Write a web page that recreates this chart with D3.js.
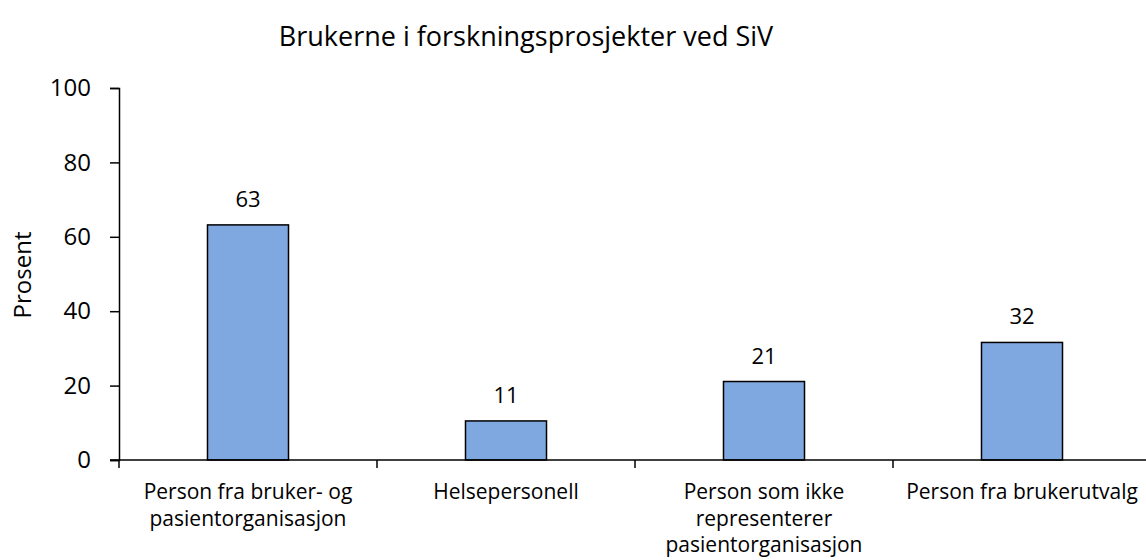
<!DOCTYPE html>
<html>
<head>
<meta charset="utf-8">
<script src="https://cdn.jsdelivr.net/npm/d3@7"></script>
<style>
  body { margin: 0; background: #fff; }
  text { font-family: "Open Sans", sans-serif; fill: #000; }
</style>
</head>
<body>
<div id="chart"></div>
<script>
// data
var categories = [
  ["Person fra bruker- og", "pasientorganisasjon"],
  ["Helsepersonell"],
  ["Person som ikke", "representerer", "pasientorganisasjon"],
  ["Person fra brukerutvalg"]
];
var values = [63.2, 10.5, 21.1, 31.6];
var yTicks = [0, 20, 40, 60, 80, 100];

var svgWidth = 1146;
var svgHeight = 560;

var svg = d3.select("#chart")
  .append("svg")
  .attr("width", svgWidth)
  .attr("height", svgHeight);

var x = d3.scaleBand()
  .domain(d3.range(values.length))
  .range([119, 1151])
  .paddingInner(0.686)
  .paddingOuter(0.343);

var y = d3.scaleLinear()
  .domain([0, 100])
  .range([460, 88]);

// title
svg.append("text")
  .attr("x", 526)
  .attr("y", 46)
  .attr("text-anchor", "middle")
  .attr("font-size", "27px")
  .text("Brukerne i forskningsprosjekter ved SiV");

// y axis
var yAxis = svg.append("g")
  .attr("transform", "translate(119,0)")
  .call(d3.axisLeft(y).tickValues(yTicks).tickSize(9).tickPadding(19));
yAxis.select(".domain").attr("stroke", "#000").attr("stroke-width", 1.5);
yAxis.selectAll(".tick line").attr("stroke", "#000").attr("stroke-width", 1.5);
yAxis.selectAll(".tick text")
  .attr("font-size", "24px")
  .attr("font-family", "'Open Sans', sans-serif")
  .attr("fill", "#000");

// y label
svg.append("text")
  .attr("transform", "translate(31,275) rotate(-90)")
  .attr("text-anchor", "middle")
  .attr("font-size", "24px")
  .text("Prosent");

// bars
svg.selectAll("rect.bar")
  .data(values)
  .enter()
  .append("rect")
  .attr("class", "bar")
  .attr("x", (d, i) => x(i))
  .attr("y", d => y(d))
  .attr("width", x.bandwidth())
  .attr("height", d => y(0) - y(d))
  .attr("fill", "#7FA8E0")
  .attr("stroke", "#000")
  .attr("stroke-width", 1.5);

// value labels
svg.selectAll("text.val")
  .data(values)
  .enter()
  .append("text")
  .attr("class", "val")
  .attr("x", (d, i) => x(i) + x.bandwidth() / 2)
  .attr("y", d => y(d) - 18)
  .attr("text-anchor", "middle")
  .attr("font-size", "22px")
  .text(d => Math.round(d));

// x axis
var xAxisLine = svg.append("g");
xAxisLine.append("line")
  .attr("x1", 110).attr("x2", svgWidth)
  .attr("y1", y(0)).attr("y2", y(0))
  .attr("stroke", "#000").attr("stroke-width", 1.5);
xAxisLine.selectAll("line.tk")
  .data(d3.range(values.length + 1))
  .enter()
  .append("line")
  .attr("class", "tk")
  .attr("x1", i => 119 + i * x.step())
  .attr("x2", i => 119 + i * x.step())
  .attr("y1", y(0))
  .attr("y2", y(0) + 8)
  .attr("stroke", "#000").attr("stroke-width", 1.5);

// category labels
var catLabels = svg.selectAll("text.cat")
  .data(categories)
  .enter()
  .append("text")
  .attr("class", "cat")
  .attr("text-anchor", "middle")
  .attr("font-size", "21px");

catLabels.each(function(lines, i) {
  var t = d3.select(this);
  lines.forEach(function(line, j) {
    t.append("tspan")
      .attr("x", x(i) + x.bandwidth() / 2)
      .attr("y", 499 + j * 26.5)
      .text(line);
  });
});
</script>
</body>
</html>
